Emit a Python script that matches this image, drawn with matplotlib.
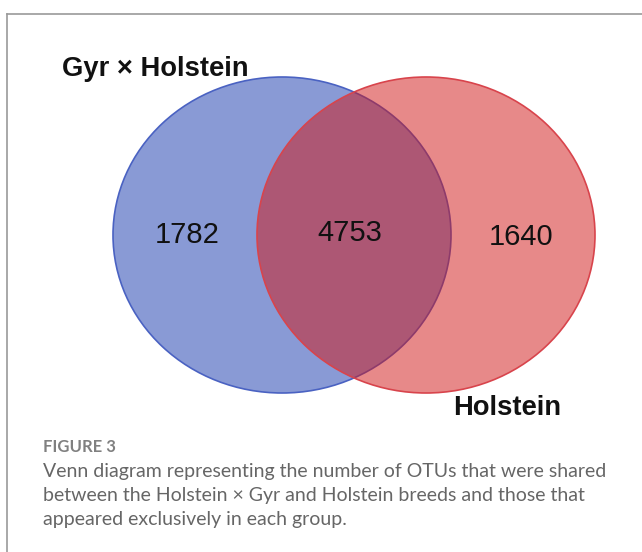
import matplotlib
matplotlib.use("Agg")
import matplotlib.pyplot as plt
from matplotlib.patches import Ellipse
from matplotlib.lines import Line2D

# data
set_names = ["Gyr \u00d7 Holstein", "Holstein"]
only_counts = [1782, 1640]
shared_count = 4753
caption_head = "FIGURE 3"
caption_lines = [
    "Venn diagram representing the number of OTUs that were shared",
    "between the Holstein \u00d7 Gyr and Holstein breeds and those that",
    "appeared exclusively in each group.",
]

W, H = 642, 552
fig = plt.figure(figsize=(W / 100, H / 100), dpi=100)
ax = fig.add_axes([0, 0, 1, 1])
ax.set_xlim(0, W)
ax.set_ylim(H, 0)
ax.axis("off")

# frame lines (top and left)
fig.add_artist(Line2D([7 / W, 1], [1 - 14 / H, 1 - 14 / H], color="#9a9a9a", lw=1.2))
fig.add_artist(Line2D([7 / W, 7 / W], [1 - 14 / H, 0], color="#9a9a9a", lw=1.2))

# venn ellipses
cy = 235
rx, ry = 169, 158
blue = Ellipse((282, cy), 2 * rx, 2 * ry, facecolor=(21 / 255, 55 / 255, 173 / 255, 0.5),
               edgecolor="#4a62c2", lw=1.2)
red = Ellipse((426, cy), 2 * rx, 2 * ry, facecolor=(209 / 255, 21 / 255, 21 / 255, 0.5),
              edgecolor="#d8444c", lw=1.2)
ax.add_patch(blue)
ax.add_patch(red)

num_font = dict(family="Liberation Sans", fontsize=21, color="#111111",
                ha="center", va="center")
ax.text(187, cy, str(only_counts[0]), **num_font)
ax.text(350, cy - 2, str(shared_count), **num_font)
ax.text(521, cy + 2, str(only_counts[1]), **num_font)

lab_font = dict(family="Liberation Sans", fontsize=19.7, fontweight="bold", color="#111111",
                va="baseline")
ax.text(62, 76, set_names[0], ha="left", **lab_font)
ax.text(453, 415, set_names[1], ha="left", **lab_font)

# caption
ax.text(43, 452, caption_head, family="Lato", fontsize=12, fontweight="bold",
        color="#808080", va="baseline", ha="left")
for i, line in enumerate(caption_lines):
    ax.text(43, 477 + i * 24, line, family="Lato", fontsize=14, fontweight="normal",
            color="#666666", va="baseline", ha="left")

fig.savefig("out.png", dpi=100)
